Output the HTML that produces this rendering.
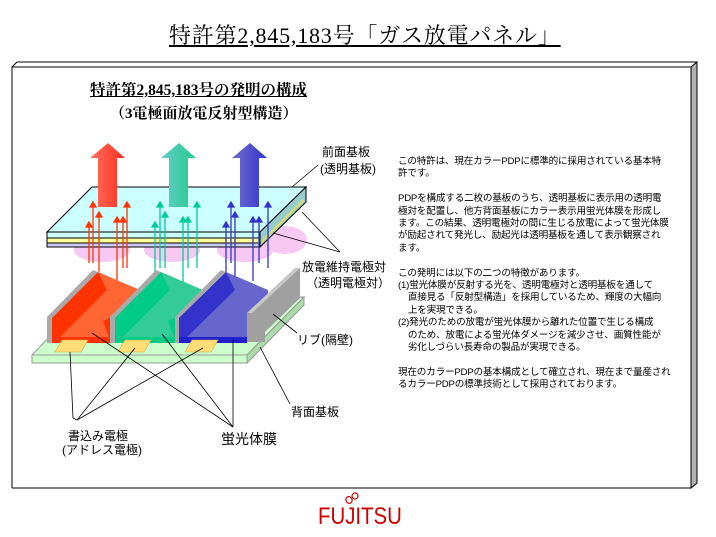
<!DOCTYPE html>
<html><head><meta charset="utf-8"><style>
body{margin:0;width:716px;height:537px;background:#fff;overflow:hidden;position:relative;font-family:"Liberation Sans","Noto Sans CJK JP",sans-serif}
.t{position:absolute;white-space:nowrap}
#txt{position:absolute;left:398px;top:156px;font-size:9.6px;line-height:12.4px;color:#000;letter-spacing:-0.2px}
</style></head><body>
<svg width="716" height="537" style="position:absolute;left:0;top:0">
<polygon points="12,488 12,67 17,62 697,62 691,67 691,488" fill="#fff"/>
<polygon points="691,67 697,62 697,483 691,488" fill="#b0b0b0" stroke="#000" stroke-width="1"/>
<polyline points="12,488 12,67 17,62 697,62" fill="none" stroke="#000"/>
<line x1="12" y1="67" x2="691" y2="67" stroke="#000"/>
<line x1="12" y1="488" x2="691" y2="488" stroke="#000"/>
<line x1="691" y1="67" x2="691" y2="488" stroke="#000"/>
<ellipse cx="102" cy="250" rx="28" ry="12" fill="#f6c8f2"/>
<ellipse cx="172" cy="250" rx="28" ry="12" fill="#f6c8f2"/>
<ellipse cx="245" cy="250" rx="28" ry="12" fill="#f6c8f2"/>
<ellipse cx="285" cy="240" rx="22" ry="14" fill="#f6c8f2"/>
<polygon points="47,232 92,187 306,187 260,232" fill="#ccffff" stroke="#000"/>
<rect x="47" y="232" width="213" height="6" fill="#ccffff" stroke="#000"/>
<rect x="47" y="238" width="213" height="5" fill="#ffff99" stroke="#000"/>
<rect x="47" y="243" width="213" height="4" fill="#ccccff" stroke="#000"/>
<polygon points="260,232 306,187 306,202 260,247" fill="#99cccc" stroke="#000"/>
<polygon points="262,240 304,198 304,201 262,243" fill="#dddd66"/>
<defs>
<linearGradient id="gr" x1="0" x2="1"><stop offset="0" stop-color="#ff7060"/><stop offset="1" stop-color="#ff3020"/></linearGradient>
<linearGradient id="gg" x1="0" x2="1"><stop offset="0" stop-color="#66cccc"/><stop offset="1" stop-color="#22cc88"/></linearGradient>
<linearGradient id="gb" x1="0" x2="1"><stop offset="0" stop-color="#7070cc"/><stop offset="1" stop-color="#3333cc"/></linearGradient>
</defs>
<polygon points="98,207 98,158 90,158 108,143 125,158 117,158 117,207" fill="url(#gr)"/>
<polygon points="169,207 169,158 161,158 179,143 196,158 188,158 188,207" fill="url(#gg)"/>
<polygon points="240,207 240,158 232,158 250,143 267,158 259,158 259,207" fill="url(#gb)"/>
<g stroke-width="1.3">
<g stroke="#ff3300" fill="#ff3300">
<line x1="89" y1="225" x2="89" y2="263"/><polygon points="86,227 89,222 92,227"/>
<line x1="93" y1="205" x2="93" y2="263"/><polygon points="90,207 93,202 96,207"/>
<line x1="99" y1="215" x2="99" y2="272"/><polygon points="96,217 99,212 102,217"/>
<line x1="117" y1="220" x2="117" y2="286"/><polygon points="114,222 117,217 120,222"/>
<line x1="123" y1="220" x2="123" y2="268"/><polygon points="120,222 123,217 126,222"/>
<line x1="127" y1="205" x2="127" y2="268"/><polygon points="124,207 127,202 130,207"/>
</g>
<g stroke="#00cc99" fill="#00cc99">
<line x1="155" y1="225" x2="155" y2="272"/><polygon points="152,227 155,222 158,227"/>
<line x1="160" y1="205" x2="160" y2="268"/><polygon points="157,207 160,202 163,207"/>
<line x1="165" y1="215" x2="165" y2="268"/><polygon points="162,217 165,212 168,217"/>
<line x1="183" y1="220" x2="183" y2="286"/><polygon points="180,222 183,217 186,222"/>
<line x1="188" y1="220" x2="188" y2="268"/><polygon points="185,222 188,217 191,222"/>
<line x1="197" y1="205" x2="197" y2="268"/><polygon points="194,207 197,202 200,207"/>
</g>
<g stroke="#3333cc" fill="#3333cc">
<line x1="226" y1="225" x2="226" y2="272"/><polygon points="223,227 226,222 229,227"/>
<line x1="231" y1="205" x2="231" y2="263"/><polygon points="228,207 231,202 234,207"/>
<line x1="235" y1="215" x2="235" y2="286"/><polygon points="232,217 235,212 238,217"/>
<line x1="253" y1="220" x2="253" y2="281"/><polygon points="250,222 253,217 256,222"/>
<line x1="259" y1="220" x2="259" y2="263"/><polygon points="256,222 259,217 262,222"/>
<line x1="268" y1="205" x2="268" y2="268"/><polygon points="265,207 268,202 271,207"/>
</g>
</g>
<polygon points="32,355 88,297 304,297 247,355" fill="#ccffcc" stroke="#999"/>
<rect x="32" y="355" width="215" height="8" fill="#ccffcc" stroke="#999"/>
<polygon points="247,355 304,297 304,305 247,363" fill="#aaddaa" stroke="#999"/>
<g>
<polygon points="47,317 93,270 98,272 52,318 52,343 47,343" fill="#aaa"/>
<polygon points="98,272 140,290 140,300 110,330 110,343 52,343 52,318" fill="#ff6633"/>
<polygon points="52,318 98,272 107,290 60,337 60,343 52,343" fill="#ff3300"/>
<polygon points="52,337 110,337 110,343 52,343" fill="#ff3300"/>
<polygon points="103,321 110,318 110,340" fill="#ff3300"/>
</g>
<g>
<polygon points="110,317 156,270 161,272 115,318 115,343 110,343" fill="#aaa"/>
<polygon points="161,272 203,290 203,300 175,330 175,343 115,343 115,318" fill="#33cc99"/>
<polygon points="115,318 161,272 170,290 123,337 123,343 115,343" fill="#00cc88"/>
<polygon points="115,337 175,337 175,343 115,343" fill="#00cc88"/>
<polygon points="168,321 175,318 175,340" fill="#00cc88"/>
</g>
<g>
<polygon points="175,317 221,270 226,272 179,318 179,343 175,343" fill="#aaa"/>
<polygon points="226,272 268,290 268,300 247,322 247,343 179,343 179,318" fill="#6666cc"/>
<polygon points="179,318 226,272 235,290 187,337 187,343 179,343" fill="#3333cc"/>
<polygon points="179,337 247,337 247,343 179,343" fill="#2222cc"/>
</g>
<polygon points="247,313 295,268 300,268 300,298 265,332 265,342 247,342" fill="#a0a0a0"/>
<polygon points="247,313 295,268 300,268 252,313" fill="#c8c8c8"/>
<polygon points="55,352 62,340 88,340 81,352" fill="#ffdd77" stroke="#ddaa44" stroke-width="0.6"/>
<polygon points="118,352 125,340 151,340 144,352" fill="#ffdd77" stroke="#ddaa44" stroke-width="0.6"/>
<polygon points="185,352 192,340 218,340 211,352" fill="#ffdd77" stroke="#ddaa44" stroke-width="0.6"/>
<g stroke="#000" stroke-width="0.8" fill="none">
<polyline points="70,352 73,418 77,420"/>
<line x1="135" y1="348" x2="77" y2="420"/>
<line x1="203" y1="348" x2="77" y2="420"/>
<line x1="92" y1="333" x2="233" y2="427"/>
<line x1="162" y1="334" x2="233" y2="427"/>
<line x1="233" y1="340" x2="233" y2="427"/>
<line x1="273" y1="314" x2="297" y2="333"/>
<line x1="260" y1="347" x2="290" y2="404"/>
<line x1="302" y1="212" x2="340" y2="252"/>
<line x1="273" y1="233" x2="340" y2="252"/>
<line x1="292" y1="187" x2="318" y2="165"/>
</g>
<g fill="none" stroke="#cc0000" stroke-width="1.2">
<ellipse cx="349" cy="500" rx="3" ry="3.5" transform="rotate(-30 349 500)"/><ellipse cx="355" cy="496" rx="3" ry="3" /></g>
</svg>
<div class="t" style="left:169px;top:19px;font-family:'Liberation Serif','Noto Serif CJK SC',serif;font-size:22px;text-decoration:underline;letter-spacing:0.8px">特許第2,845,183号「ガス放電パネル」</div>
<div class="t" style="left:90px;top:78px;font-family:'Liberation Serif','Noto Serif CJK SC',serif;font-size:15.5px;font-weight:bold;text-decoration:underline">特許第2,845,183号の発明の構成</div>
<div class="t" style="left:110px;top:102px;font-family:'Liberation Serif','Noto Serif CJK SC',serif;font-size:15px;font-weight:bold">（3電極面放電反射型構造）</div>
<div class="t" style="left:322px;top:143px;font-size:12px">前面基板</div>
<div class="t" style="left:320px;top:160px;font-size:12px">(透明基板)</div>
<div class="t" style="left:302px;top:258px;font-size:12px">放電維持電極対</div>
<div class="t" style="left:306px;top:274px;font-size:12px">（透明電極対）</div>
<div class="t" style="left:297px;top:331px;font-size:12px">リブ(隔壁)</div>
<div class="t" style="left:291px;top:403px;font-size:12px">背面基板</div>
<div class="t" style="left:68px;top:427px;font-size:12px">書込み電極</div>
<div class="t" style="left:62px;top:441px;font-size:12px">(アドレス電極)</div>
<div class="t" style="left:221px;top:429px;font-size:14px">蛍光体膜</div>
<div id="txt">この特許は、現在カラーPDPに標準的に採用されている基本特<br>許です。<br><br>PDPを構成する二枚の基板のうち、透明基板に表示用の透明電<br>極対を配置し、他方背面基板にカラー表示用蛍光体膜を形成し<br>ます。この結果、透明電極対の間に生じる放電によって蛍光体膜<br>が励起されて発光し、励起光は透明基板を通して表示観察され<br>ます。<br><br>この発明には以下の二つの特徴があります。<br>(1)蛍光体膜が反射する光を、透明電極対と透明基板を通して<br>&nbsp;&nbsp;&nbsp;&nbsp;直接見る「反射型構造」を採用しているため、輝度の大幅向<br>&nbsp;&nbsp;&nbsp;&nbsp;上を実現できる。<br>(2)発光のための放電が蛍光体膜から離れた位置で生じる構成<br>&nbsp;&nbsp;&nbsp;&nbsp;のため、放電による蛍光体ダメージを減少させ、画質性能が<br>&nbsp;&nbsp;&nbsp;&nbsp;劣化しづらい長寿命の製品が実現できる。<br><br>現在のカラーPDPの基本構成として確立され、現在まで量産され<br>るカラーPDPの標準技術として採用されております。</div>
<div class="t" style="left:318px;top:503px;font-size:24px;color:#cc0000;font-family:'Liberation Sans Narrow','Liberation Sans',sans-serif;transform:scaleX(0.85);transform-origin:left">FUJITSU</div>
</body></html>
